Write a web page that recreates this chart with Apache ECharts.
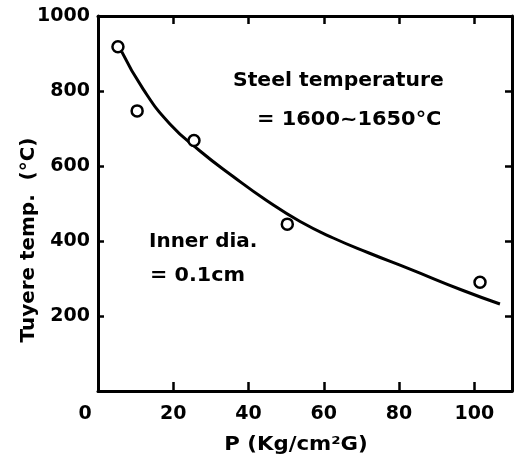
<!DOCTYPE html>
<html>
<head>
<meta charset="utf-8">
<script src="https://cdn.jsdelivr.net/npm/echarts@6/dist/echarts.min.js"></script>
<style>html,body{margin:0;padding:0;background:#fff}#c{width:529px;height:456px}</style>
</head>
<body>
<div id="c"></div>
<script>
// Measured points (open circles)
const pointP = [5.3, 10.4, 25.5, 50.3, 101.5];
const pointT = [918, 747, 668, 445, 290];
// Fitted curve
const curveP = [6.3, 12, 19.1, 27.1, 35.9, 44.8, 53.7, 62.5, 72, 82.9, 97, 106.8];
const curveT = [905, 805, 712, 640, 572, 508, 452, 408, 368, 325, 268, 232];
const xTicks = [0, 20, 40, 60, 80, 100];
const yTicks = [200, 400, 600, 800, 1000];

const FONT = 'DejaVu Sans';
const chart = echarts.init(document.getElementById('c'));
const axisLine = {show: true, onZero: false, lineStyle: {color: '#000', width: 3}};
const lbl = {color: '#000', fontFamily: FONT, fontWeight: 'bold', fontSize: 19};
const tf = 'bold 19px "DejaVu Sans"';

chart.setOption({
  animation: false,
  backgroundColor: '#fff',
  grid: {left: 98, top: 16, right: 17, bottom: 65, containLabel: false},
  xAxis: [{
    type: 'value', min: 0, max: 110, interval: 20, position: 'bottom',
    axisLine, splitLine: {show: false},
    axisTick: {show: true, inside: true, length: 9, lineStyle: {color: '#000', width: 2.5}},
    axisLabel: Object.assign({}, lbl, {
      margin: 14, showMaxLabel: false,
      formatter: v => xTicks.indexOf(v) < 0 ? '' : (v === 0 ? '{z|0}' : String(v)),
      rich: {z: {color: '#000', fontFamily: FONT, fontWeight: 'bold', fontSize: 19, padding: [0, 26, 8, 0]}}
    })
  }, {
    type: 'value', min: 0, max: 110, interval: 20, position: 'top',
    axisLine, splitLine: {show: false},
    axisTick: {show: true, inside: true, length: 8, lineStyle: {color: '#000', width: 2.5}},
    axisLabel: {show: false}
  }],
  yAxis: [{
    type: 'value', min: 0, max: 1000, interval: 200, position: 'left',
    axisLine, splitLine: {show: false},
    axisTick: {show: true, inside: true, length: 6, lineStyle: {color: '#000', width: 2.5}},
    axisLabel: Object.assign({}, lbl, {
      margin: 8,
      formatter: v => yTicks.indexOf(v) < 0 ? '' : String(v)
    })
  }, {
    type: 'value', min: 0, max: 1000, interval: 200, position: 'right',
    axisLine, splitLine: {show: false},
    axisTick: {show: true, inside: true, length: 7, lineStyle: {color: '#000', width: 2.5}},
    axisLabel: {show: false}
  }],
  series: [{
    type: 'line', xAxisIndex: 0, yAxisIndex: 0,
    data: curveP.map((p, i) => [p, curveT[i]]),
    smooth: 0.5, showSymbol: false,
    lineStyle: {color: '#000', width: 3}, z: 2
  }, {
    type: 'scatter', xAxisIndex: 0, yAxisIndex: 0,
    data: pointP.map((p, i) => [p, pointT[i]]),
    symbol: 'circle', symbolSize: 11,
    itemStyle: {color: '#fff', borderColor: '#000', borderWidth: 2.5, opacity: 1}, z: 3
  }],
  graphic: [
    {type: 'text', x: 233, y: 81, scaleX: 1.07, style: {text: 'Steel temperature', font: tf, fill: '#000', align: 'left', verticalAlign: 'middle'}},
    {type: 'text', x: 257, y: 120, scaleX: 1.1, style: {text: '= 1600~1650°C', font: tf, fill: '#000', align: 'left', verticalAlign: 'middle'}},
    {type: 'text', x: 149, y: 242, scaleX: 1.05, style: {text: 'Inner dia.', font: tf, fill: '#000', align: 'left', verticalAlign: 'middle'}},
    {type: 'text', x: 150, y: 276, scaleX: 1.09, style: {text: '= 0.1cm', font: tf, fill: '#000', align: 'left', verticalAlign: 'middle'}},
    {type: 'text', x: 296, y: 445, scaleX: 1.12, style: {text: 'P (Kg/cm²G)', font: tf, fill: '#000', align: 'center', verticalAlign: 'middle'}},
    {type: 'text', x: 29, y: 240, rotation: Math.PI / 2, scaleX: 1.05, style: {text: 'Tuyere temp.  (°C)', font: tf, fill: '#000', align: 'center', verticalAlign: 'middle'}}
  ]
});
</script>
</body>
</html>
